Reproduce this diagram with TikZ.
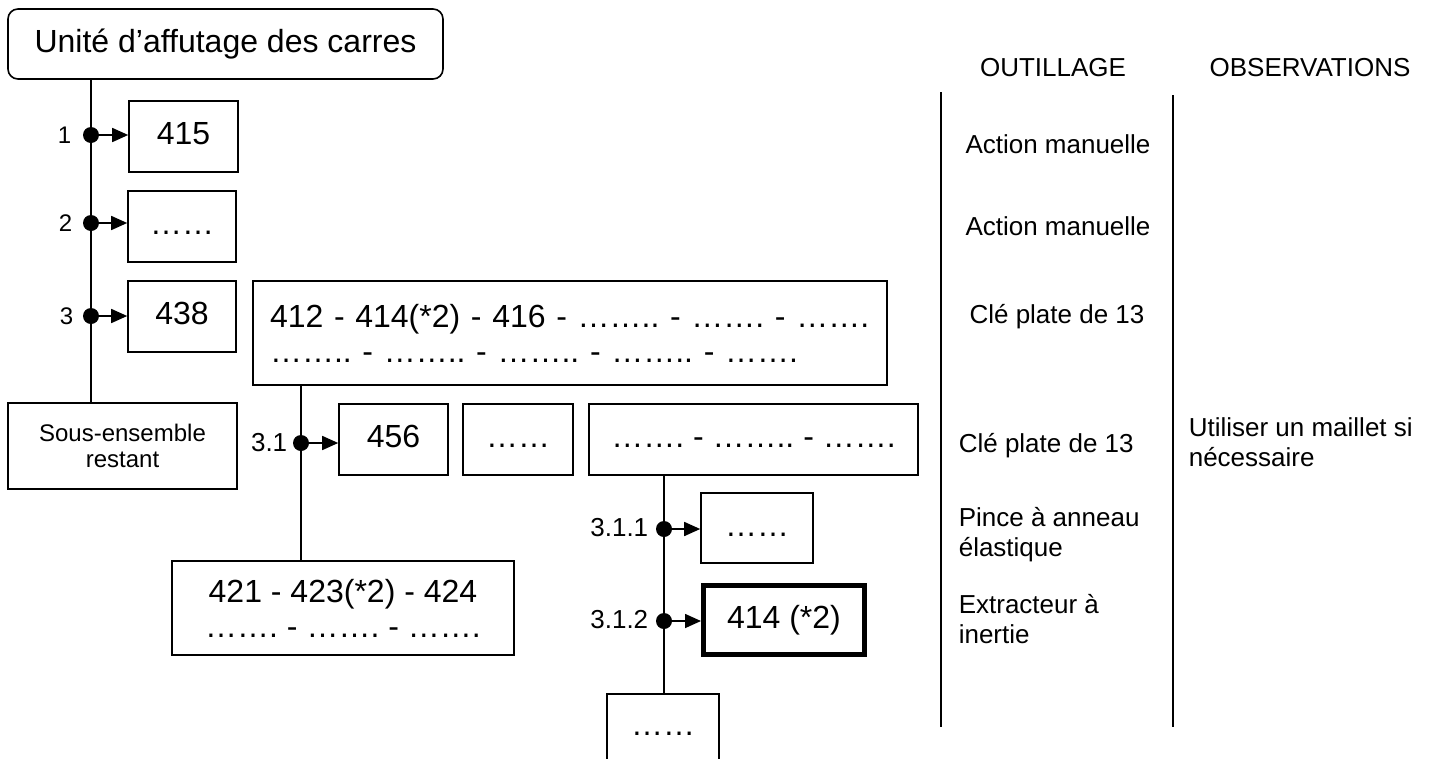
\documentclass[tikz,border=0pt]{standalone}
\usepackage{fontspec}
\setmainfont{Liberation Sans}
\usetikzlibrary{arrows.meta}
\frenchspacing
\begin{document}
\begin{tikzpicture}[x=1pt,y=-1pt,
  line width=1.6pt,
  bigfont/.style={font=\fontsize{32}{35}\selectfont\frenchspacing},
  bx/.style={draw, line width=1.6pt, inner sep=0pt, bigfont, text height=24pt, text depth=8pt},
  mbx/.style={draw, line width=1.6pt, inner sep=0pt, bigfont},
  lbl/.style={inner sep=0pt, font=\fontsize{24}{28}\selectfont, anchor=east},
  lblb/.style={inner sep=0pt, font=\fontsize{26}{30}\selectfont, anchor=east},
  rt/.style={inner sep=0pt, font=\fontsize{26}{30}\selectfont},
  arr/.style={line width=1.6pt, -{Triangle[length=16pt,width=14pt]}},
  dotmark/.style={circle, fill=black, draw=none, inner sep=0pt, minimum size=16pt}
]
\useasboundingbox (0,0) rectangle (1438,758);

% ---- boxes ----
\node[draw, rounded corners=10pt, line width=1.6pt, bigfont, inner sep=0pt,
      minimum width=435pt, minimum height=70pt] (title) at (225.5,44) {Unité d’affutage des carres};
\node[bx, minimum width=109pt, minimum height=71pt] (b415) at (183.5,136.5) {415};
\node[bx, minimum width=108pt, minimum height=71pt] (b2) at (182,226.5) {……};
\node[bx, minimum width=108pt, minimum height=71pt] (b438) at (182,316.5) {438};
\node[mbx, minimum width=634pt, minimum height=104pt, text width=600pt, align=left,
      inner xsep=17pt] (bigbox) at (570,333)
      {\mbox{412 - 414(*2) - 416 - …….. - ……. - …….}\\\mbox{…….. - …….. - …….. - …….. - …….}};
\node[draw, line width=1.6pt, inner sep=0pt, font=\fontsize{24}{26}\selectfont, align=center,
      minimum width=229pt, minimum height=86pt] (sous) at (122.5,446) {Sous-ensemble\\restant};
\node[bx, minimum width=109pt, minimum height=71pt] (b456) at (393.5,439.5) {456};
\node[bx, minimum width=110pt, minimum height=71pt] (b31dots) at (518,439.5) {……};
\node[bx, minimum width=329pt, minimum height=71pt] (b31multi) at (753.5,439.5) {……. - …….. - …….};
\node[mbx, align=center, minimum width=342pt, minimum height=94pt] (b421) at (343,608)
      {421 - 423(*2) - 424\\……. - ……. - …….};
\node[bx, minimum width=112pt, minimum height=70pt] (b311) at (757,528) {……};
\node[bx, line width=5pt, minimum width=161pt, minimum height=69pt] (b312) at (784,620) {414 (*2)};
\node[bx, minimum width=112pt, minimum height=68pt, anchor=north] (bbot) at (663,693) {……};

% ---- junction points ----
\coordinate (d1) at (91,135);
\coordinate (d2) at (91,223);
\coordinate (d3) at (91,316);
\coordinate (d31) at (301,443);
\coordinate (d311) at (664,529);
\coordinate (d312) at (664,621);

% ---- stems ----
\draw (title.south -| d1) -- (sous.north -| d1);
\draw (bigbox.south -| d31) -- (b421.north -| d31);
\draw (b31multi.south -| d311) -- (bbot.north -| d311);

% ---- arrows ----
\draw[arr] (d1) -- (d1 -| b415.west);
\draw[arr] (d2) -- (d2 -| b2.west);
\draw[arr] (d3) -- (d3 -| b438.west);
\draw[arr] (d31) -- (d31 -| b456.west);
\draw[arr] (d311) -- (d311 -| b311.west);
\draw[arr] (d312) -- (d312 -| b312.west);

\node[dotmark] (m1) at (d1) {};
\node[dotmark] (m2) at (d2) {};
\node[dotmark] (m3) at (d3) {};
\node[dotmark] (m31) at (d31) {};
\node[dotmark] (m311) at (d311) {};
\node[dotmark] (m312) at (d312) {};

% ---- step labels ----
\node[lbl] (l1) at (72,135) {1};
\node[lbl] (l2) at (73,223) {2};
\node[lbl] (l3) at (74,316) {3};
\node[lblb] (l31) at (288,443) {3.1};
\node[lblb] (l311) at (649,528) {3.1.1};
\node[lblb] (l312) at (649,620) {3.1.2};

% ---- column separators ----
\coordinate (s1t) at (941,92);
\coordinate (s1b) at (941,727);
\coordinate (s2t) at (1173,95);
\coordinate (s2b) at (1173,727);
\draw (s1t) -- (s1b);
\draw (s2t) -- (s2b);

% ---- right column texts ----
\node[rt, anchor=base] (hout) at (1053,76) {OUTILLAGE};
\node[rt, anchor=base] (hobs) at (1310,76) {OBSERVATIONS};
\node[rt, anchor=base] (t1) at (1058,153) {Action manuelle};
\node[rt, anchor=base] (t2) at (1058,235) {Action manuelle};
\node[rt, anchor=base] (t3) at (1057,323) {Clé plate de 13};
\node[rt, anchor=base west] (t31) at (958,452) {Clé plate de 13};
\node[rt, anchor=north west, align=left] (o31) at (1188,417) {Utiliser un maillet si\\nécessaire};
\node[rt, anchor=north west, align=left] (t311) at (958,507) {Pince à anneau\\élastique};
\node[rt, anchor=north west, align=left] (t312) at (958,594) {Extracteur à\\inertie};
\end{tikzpicture}
\end{document}
